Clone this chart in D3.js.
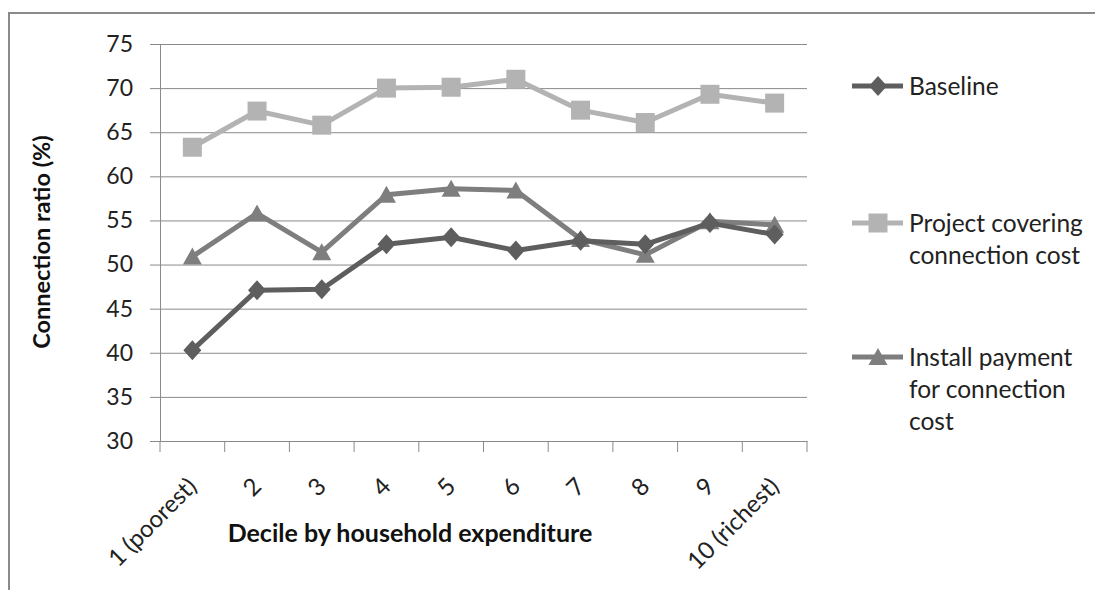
<!DOCTYPE html>
<html><head><meta charset="utf-8">
<script src="https://cdn.jsdelivr.net/npm/d3@7"></script>
<style>
html,body{margin:0;padding:0;background:#fff;}
svg{display:block;font-family:Lato,"Liberation Sans",sans-serif;}
</style></head>
<body><svg id="c" width="1095" height="590"></svg>
<script>
const categories = ["1 (poorest)","2","3","4","5","6","7","8","9","10 (richest)"];
const baseline = [40.3,47.1,47.2,52.3,53.1,51.6,52.7,52.3,54.7,53.4];
const projectCovering = [63.3,67.4,65.8,70.0,70.1,71.0,67.5,66.1,69.3,68.3];
const installPayment = [50.9,55.8,51.4,57.9,58.6,58.4,52.9,51.1,54.9,54.5];
const yTicks = [30,35,40,45,50,55,60,65,70,75];
const seriesNames = ["Baseline","Project covering connection cost","Install payment for connection cost"];
const legendLines = [["Baseline"],["Project covering","connection cost"],["Install payment","for connection","cost"]];

const svg = d3.select("#c");
// outer frame
svg.append("path").attr("d","M9,590 V13 H1095").attr("fill","none").attr("stroke","#8a8a8a").attr("stroke-width",2);

const L=160,R=807,T=44,B=441;
const x = d3.scaleBand().domain(categories).range([L,R]);
const y = d3.scaleLinear().domain([30,75]).range([B,T]);

// gridlines + y axis
const yAxis = d3.axisLeft(y).tickValues(yTicks).tickSize(-(R-L)).tickSizeOuter(0).tickPadding(27);
const gy = svg.append("g").attr("transform",`translate(${L},0)`).call(yAxis);
gy.select(".domain").attr("stroke","#8a8a8a");
gy.selectAll(".tick line").attr("stroke","#8a8a8a").attr("x1",-10);
gy.selectAll(".tick text").attr("font-size",23).attr("fill","#222").attr("font-family","Lato");

// x axis
const gx = svg.append("g").attr("transform",`translate(0,${B})`).call(d3.axisBottom(x).tickSize(0).tickFormat(""));
gx.select(".domain").attr("stroke","#8a8a8a");
const bounds = [L].concat(categories.map(c=>x(c)+x.bandwidth()));
svg.append("g").selectAll("line").data(bounds).join("line")
  .attr("x1",d=>d).attr("x2",d=>d).attr("y1",B).attr("y2",B+11).attr("stroke","#8a8a8a");
svg.append("g").selectAll("text").data(categories).join("text")
  .attr("transform",d=>`translate(${x(d)+x.bandwidth()/2-6},${B+35}) rotate(-45)`)
  .attr("text-anchor","end").attr("dy","0.7em").attr("font-size",24).attr("fill","#222").text(d=>d);

// axis titles
svg.append("text").attr("transform","translate(50,242) rotate(-90)").attr("text-anchor","middle")
  .attr("font-weight","bold").attr("font-size",23.5).attr("fill","#111").text("Connection ratio (%)");
svg.append("text").attr("x",410).attr("y",542).attr("text-anchor","middle")
  .attr("font-weight","bold").attr("font-size",25).attr("fill","#111").text("Decile by household expenditure");

const colors = ["#5e5e5e","#b3b3b3","#7e7e7e"];
const data = [baseline,projectCovering,installPayment];
const cx = d => x(d)+x.bandwidth()/2;
const line = d3.line().x((v,i)=>cx(categories[i])).y(v=>y(v));

function marker(sel,k){
  if(k===0){ // diamond
    sel.append("path").attr("d","M0,-10 L9,0 L0,10 L-9,0 Z").attr("fill",colors[k]);
  } else if(k===1){
    sel.append("rect").attr("x",-9.5).attr("y",-9.5).attr("width",19).attr("height",19).attr("fill",colors[k]);
  } else {
    sel.append("path").attr("d","M0,-9 L9.5,8 L-9.5,8 Z").attr("fill",colors[k]);
  }
}
const order=[1,2,0];
order.forEach(k=>{
  svg.append("path").datum(data[k]).attr("d",line).attr("fill","none")
    .attr("stroke",colors[k]).attr("stroke-width",5).attr("stroke-linejoin","round");
  svg.append("g").selectAll("g").data(data[k]).join("g")
    .attr("transform",(v,i)=>`translate(${cx(categories[i])},${y(v)})`)
    .each(function(){ marker(d3.select(this),k); });
});

// legend
const legY=[86,223,357];
legendLines.forEach((lines,k)=>{
  const g=svg.append("g").attr("transform",`translate(0,${legY[k]})`);
  g.append("line").attr("x1",852).attr("x2",903).attr("y1",0).attr("y2",0).attr("stroke",colors[k]).attr("stroke-width",5);
  const m=g.append("g").attr("transform","translate(878,0)"); marker(m,k);
  const t=g.append("text").attr("x",909).attr("y",0).attr("font-size",24.5).attr("fill","#222");
  lines.forEach((s,j)=>t.append("tspan").attr("x",909).attr("dy",j===0?"0.35em":"32px").text(s));
});
</script></body></html>
